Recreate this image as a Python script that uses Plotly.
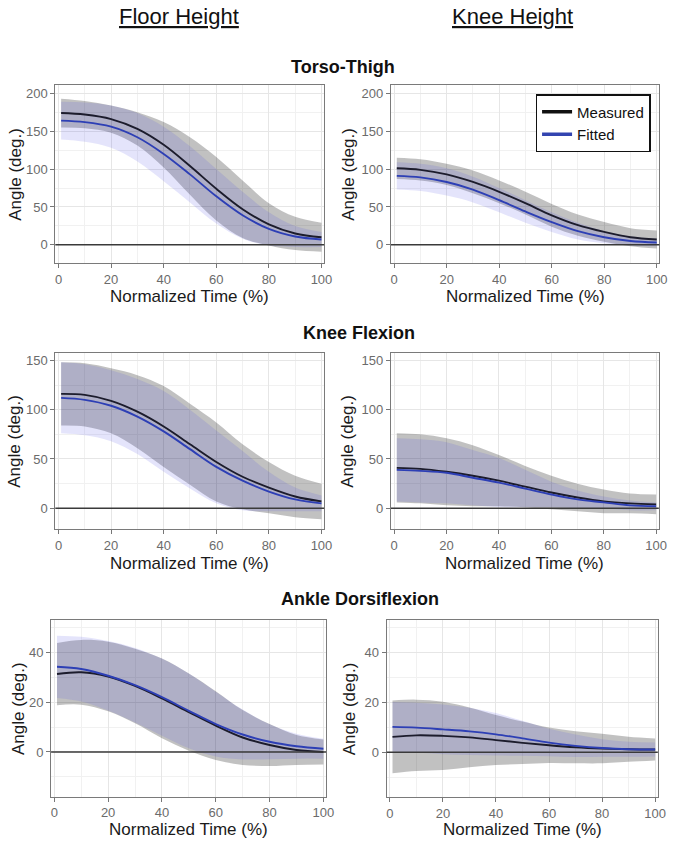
import plotly.graph_objects as go
from plotly.subplots import make_subplots

W, H = 674, 843
FONT = "Liberation Sans, Arial, sans-serif"

# Normalized time samples (%)
time_pct = [1, 10, 20, 30, 40, 50, 60, 70, 80, 90, 100]

# ---- Torso-Thigh angle (deg.) ----
tt_floor_meas_mean = [174, 172, 166, 153, 132, 104, 74, 47, 27, 15, 10]
tt_floor_meas_sd = [19, 18, 18, 22, 30, 38, 42, 38, 28, 22, 19]
tt_floor_fit_mean = [164, 162, 156, 142, 120, 93, 64, 39, 21, 11, 7]
tt_floor_fit_sd = [25, 26, 28, 32, 36, 37, 36, 31, 22, 14, 10]

tt_knee_meas_mean = [101, 99, 93, 83, 70, 55, 39, 26, 17, 10, 7]
tt_knee_meas_sd = [14, 14, 14, 15, 15, 15, 15, 14, 13, 12, 12]
tt_knee_fit_mean = [91, 89, 83, 73, 59, 44, 30, 18, 10, 5, 3]
tt_knee_fit_sd = [18, 18, 18, 17, 16, 15, 13, 11, 8, 6, 5]

# ---- Knee Flexion angle (deg.) ----
kf_floor_meas_mean = [116, 115, 109, 98, 83, 65, 47, 32, 21, 12, 7]
kf_floor_meas_sd = [32, 32, 33, 37, 41, 41, 40, 33, 26, 21, 18]
kf_floor_fit_mean = [112, 110, 104, 93, 78, 60, 42, 28, 17, 9, 5]
kf_floor_fit_sd = [36, 36, 36, 38, 41, 40, 37, 30, 20, 12, 8]

kf_knee_meas_mean = [41, 40, 37, 33, 28, 22, 16, 11, 7, 5, 4]
kf_knee_meas_sd = [35, 35, 34, 31, 26, 21, 17, 14, 12, 10, 10]
kf_knee_fit_mean = [39, 38, 36, 31, 26, 20, 14, 9, 6, 3, 2]
kf_knee_fit_sd = [32, 32, 31, 28, 25, 19, 13, 9, 6, 5, 4]

# ---- Ankle Dorsiflexion angle (deg.) ----
ad_floor_meas_mean = [31.3, 32, 30.3, 26.5, 21.5, 16, 10.6, 5.8, 2.8, 0.8, 0]
ad_floor_meas_sd = [12.5, 13, 14, 15, 16, 15.5, 13.8, 11, 8.4, 6, 5]
ad_floor_fit_mean = [34.2, 33.3, 30.6, 26.8, 22, 16.5, 11.2, 7, 4.1, 2.3, 1.3]
ad_floor_fit_sd = [12.5, 13, 14, 15, 15.5, 15, 13, 10, 7, 5, 4]

ad_knee_meas_mean = [6.2, 6.8, 6.6, 6.0, 4.9, 3.8, 2.8, 2.0, 1.5, 1.2, 1.1]
ad_knee_meas_sd = [14.6, 14.3, 13.7, 12, 10, 8.5, 7.1, 6.4, 5.9, 5, 4.4]
ad_knee_fit_mean = [10.2, 9.9, 9.2, 8.4, 7.2, 5.6, 3.9, 2.6, 1.7, 1.2, 1.1]
ad_knee_fit_sd = [10, 10, 10, 9.5, 8.5, 7, 5.5, 4.5, 3.5, 3, 2.8]

column_titles = ["Floor Height", "Knee Height"]
row_titles = ["Torso-Thigh", "Knee Flexion", "Ankle Dorsiflexion"]
series_names = ["Measured", "Fitted"]
x_ticks = [0, 20, 40, 60, 80, 100]
y_ticks = [[0, 50, 100, 150, 200], [0, 50, 100, 150], [0, 20, 40]]
y_minor = [[25, 75, 125, 175], [25, 75, 125], [-10, 10, 30, 50]]
y_ranges = [[-24, 211], [-21.3, 158], [-17.9, 53]]

panels = [
    [(tt_floor_meas_mean, tt_floor_meas_sd, tt_floor_fit_mean, tt_floor_fit_sd),
     (tt_knee_meas_mean, tt_knee_meas_sd, tt_knee_fit_mean, tt_knee_fit_sd)],
    [(kf_floor_meas_mean, kf_floor_meas_sd, kf_floor_fit_mean, kf_floor_fit_sd),
     (kf_knee_meas_mean, kf_knee_meas_sd, kf_knee_fit_mean, kf_knee_fit_sd)],
    [(ad_floor_meas_mean, ad_floor_meas_sd, ad_floor_fit_mean, ad_floor_fit_sd),
     (ad_knee_meas_mean, ad_knee_meas_sd, ad_knee_fit_mean, ad_knee_fit_sd)],
]

# Panel boxes in pixels: (left, right, top, bottom)
boxes = [
    [(56, 328, 85, 263), (395.7, 667.3, 85, 263)],
    [(56, 328, 352.5, 529.3), (395.7, 666.7, 352.5, 529.3)],
    [(51.7, 330, 620, 796.5), (391.3, 665.7, 620, 797)],
]
ytitle_x = [[15, 352], [15, 352], [18, 354]]
xtitle_y = [296, 563, 829]
row_title_pos = [(347, 67), (363.5, 333), (364, 599)]
col_title_pos = [(181, 16), (518.5, 16)]

MEAS_LINE = "#1c1c2c"
FIT_LINE = "#2d3fb5"
MEAS_BAND = "rgba(0,0,0,0.245)"
FIT_BAND = "rgba(70,70,225,0.145)"


def px_x(v):
    return v / W


def px_y(v):
    return 1 - v / H


fig = make_subplots(rows=3, cols=2)

for r in range(3):
    for c in range(2):
        m_mean, m_sd, f_mean, f_sd = panels[r][c]
        m_lo = [a - b for a, b in zip(m_mean, m_sd)]
        m_hi = [a + b for a, b in zip(m_mean, m_sd)]
        f_lo = [a - b for a, b in zip(f_mean, f_sd)]
        f_hi = [a + b for a, b in zip(f_mean, f_sd)]
        spl = dict(shape="spline", smoothing=1)
        fig.add_trace(go.Scatter(x=time_pct, y=m_lo, mode="lines",
                                 line=dict(width=0, **spl), showlegend=False,
                                 hoverinfo="skip"), row=r + 1, col=c + 1)
        fig.add_trace(go.Scatter(x=time_pct, y=m_hi, mode="lines", fill="tonexty",
                                 fillcolor=MEAS_BAND, line=dict(width=0, **spl),
                                 showlegend=False, hoverinfo="skip"),
                      row=r + 1, col=c + 1)
        fig.add_trace(go.Scatter(x=time_pct, y=f_lo, mode="lines",
                                 line=dict(width=0, **spl), showlegend=False,
                                 hoverinfo="skip"), row=r + 1, col=c + 1)
        fig.add_trace(go.Scatter(x=time_pct, y=f_hi, mode="lines", fill="tonexty",
                                 fillcolor=FIT_BAND, line=dict(width=0, **spl),
                                 showlegend=False, hoverinfo="skip"),
                      row=r + 1, col=c + 1)
        fig.add_trace(go.Scatter(x=time_pct, y=m_mean, mode="lines", name=series_names[0],
                                 line=dict(color=MEAS_LINE, width=1.9, **spl),
                                 showlegend=False), row=r + 1, col=c + 1)
        fig.add_trace(go.Scatter(x=time_pct, y=f_mean, mode="lines", name=series_names[1],
                                 line=dict(color=FIT_LINE, width=1.9, **spl),
                                 showlegend=False), row=r + 1, col=c + 1)

        left, right, top, bottom = boxes[r][c]
        fig.update_xaxes(
            domain=[px_x(left), px_x(right)], range=[-1.2, 101],
            tickvals=x_ticks, ticks="outside", ticklen=4, tickcolor="#777",
            tickfont=dict(size=13, color="#6b6b6b", family=FONT),
            showline=True, linecolor="#7a7a7a", linewidth=1.2, mirror=True,
            showgrid=True, gridcolor="#e6e6e6", gridwidth=1.1, zeroline=False,
            minor=dict(tickvals=[10, 30, 50, 70, 90], showgrid=True,
                       gridcolor="#f1f1f1", gridwidth=0.8, ticks=""),
            row=r + 1, col=c + 1)
        fig.update_yaxes(
            domain=[px_y(bottom), px_y(top)], range=y_ranges[r],
            tickvals=y_ticks[r], ticks="outside", ticklen=4, tickcolor="#777",
            tickfont=dict(size=13, color="#6b6b6b", family=FONT),
            showline=True, linecolor="#7a7a7a", linewidth=1.2, mirror=True,
            showgrid=True, gridcolor="#e6e6e6", gridwidth=1.1, zeroline=False,
            minor=dict(tickvals=y_minor[r], showgrid=True,
                       gridcolor="#f1f1f1", gridwidth=0.8, ticks=""),
            row=r + 1, col=c + 1)
        fig.add_hline(y=0, line=dict(color="#3a3a3a", width=1.6), row=r + 1, col=c + 1)

        fig.add_annotation(text="Normalized Time (%)", xref="paper", yref="paper",
                           x=px_x((left + right) / 2), y=px_y(xtitle_y[r]),
                           showarrow=False, font=dict(size=17, color="#1a1a1a", family=FONT),
                           xanchor="center", yanchor="middle")
        fig.add_annotation(text="Angle (deg.)", xref="paper", yref="paper",
                           x=px_x(ytitle_x[r][c]), y=px_y((top + bottom) / 2),
                           textangle=-90, showarrow=False,
                           font=dict(size=17, color="#1a1a1a", family=FONT),
                           xanchor="center", yanchor="middle")

# Legend entries
fig.add_trace(go.Scatter(x=[None], y=[None], mode="lines", name=series_names[0],
                         line=dict(color="#111111", width=3.5)), row=1, col=2)
fig.add_trace(go.Scatter(x=[None], y=[None], mode="lines", name=series_names[1],
                         line=dict(color="#3344b0", width=3.5)), row=1, col=2)

for (cx, cy), t in zip(col_title_pos, column_titles):
    fig.add_annotation(text=f"<u>{t}</u>", xref="paper", yref="paper",
                       x=px_x(cx), y=px_y(cy), showarrow=False,
                       font=dict(size=22, color="#111111", family=FONT),
                       xanchor="center", yanchor="middle")
for (cx, cy), t in zip(row_title_pos, row_titles):
    fig.add_annotation(text=f"<b>{t}</b>", xref="paper", yref="paper",
                       x=px_x(cx), y=px_y(cy), showarrow=False,
                       font=dict(size=18, color="#111111", family=FONT),
                       xanchor="center", yanchor="middle")

fig.update_layout(
    width=W, height=H, margin=dict(l=0, r=0, t=0, b=0),
    paper_bgcolor="white", plot_bgcolor="white",
    font=dict(family=FONT),
    legend=dict(x=px_x(542), y=px_y(94), xanchor="left", yanchor="top",
                bordercolor="#111111", borderwidth=1.5, bgcolor="white",
                font=dict(size=15, color="#111111", family=FONT),
                itemwidth=30, tracegroupgap=0, traceorder="normal"),
)

fig.write_html("out.html")
